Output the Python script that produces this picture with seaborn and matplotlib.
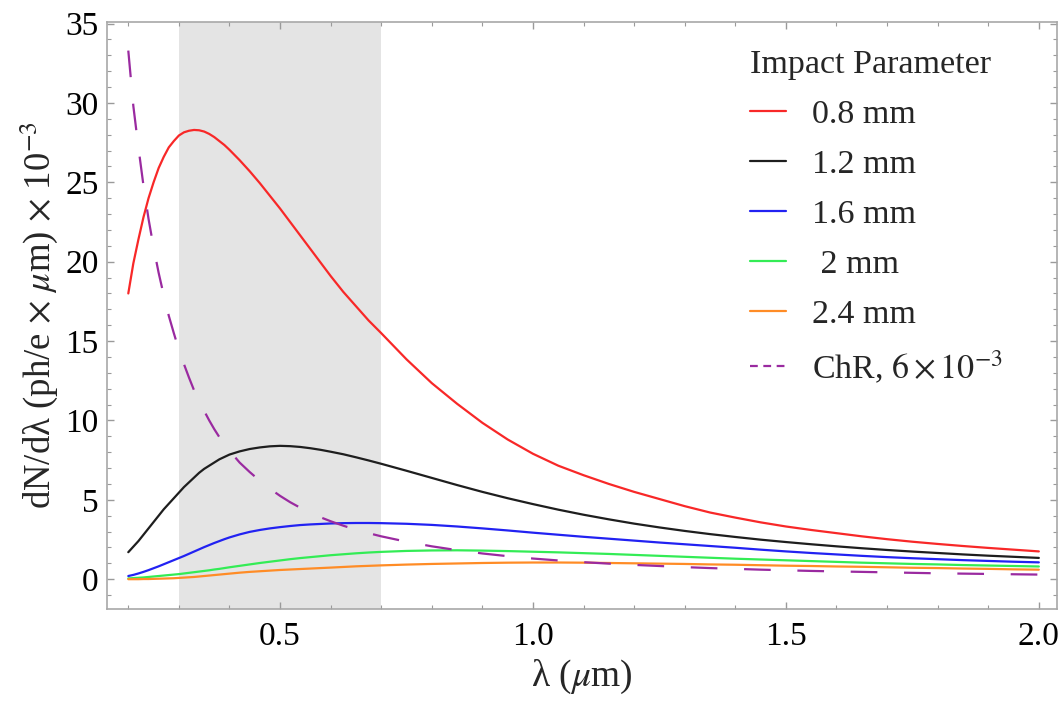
import numpy as np
import pandas as pd
import matplotlib
matplotlib.use('Agg')
import matplotlib.pyplot as plt
from matplotlib.ticker import MultipleLocator, FormatStrFormatter
import seaborn as sns

# Longueur d'onde (µm), grille commune
lam = [0.20, 0.21, 0.22, 0.23, 0.24, 0.25, 0.26, 0.27, 0.28, 0.29, 0.30,
       0.31, 0.32, 0.33, 0.34, 0.35, 0.36, 0.37, 0.38, 0.39, 0.40,
       0.42, 0.44, 0.46, 0.48, 0.50, 0.52, 0.54, 0.56, 0.58, 0.60,
       0.625, 0.65, 0.675, 0.70,
       0.75, 0.80, 0.85, 0.90, 0.95, 1.00, 1.05, 1.10, 1.15, 1.20, 1.25,
       1.30, 1.35, 1.40, 1.45, 1.50, 1.55, 1.60, 1.65, 1.70, 1.75, 1.80,
       1.85, 1.90, 1.95, 2.00]

# dN/dλ (×10^-3) pour chaque paramètre d'impact
y_08 = [18.0, 19.9, 21.4, 22.8, 24.0, 25.0, 25.9, 26.6, 27.2, 27.6, 27.95,
        28.15, 28.25, 28.3, 28.28, 28.2, 28.05, 27.85, 27.6, 27.35, 27.05,
        26.4, 25.7, 24.95, 24.15, 23.35, 22.5, 21.65, 20.8, 19.95, 19.1,
        18.1, 17.2, 16.3, 15.5,
        13.85, 12.35, 11.05, 9.85, 8.8, 7.9, 7.15, 6.55, 6.0, 5.5, 5.05,
        4.6, 4.2, 3.88, 3.58, 3.32, 3.1, 2.9, 2.7, 2.52, 2.36, 2.22,
        2.09, 1.97, 1.86, 1.75]
y_12 = [1.7, 2.05, 2.4, 2.8, 3.2, 3.6, 4.0, 4.4, 4.75, 5.1, 5.45,
        5.8, 6.1, 6.4, 6.7, 6.95, 7.15, 7.35, 7.55, 7.7, 7.85,
        8.05, 8.2, 8.3, 8.37, 8.4, 8.38, 8.33, 8.25, 8.15, 8.03,
        7.87, 7.68, 7.48, 7.27,
        6.83, 6.38, 5.93, 5.5, 5.1, 4.73, 4.38, 4.06, 3.77, 3.5, 3.26,
        3.04, 2.84, 2.66, 2.49, 2.34, 2.2, 2.07, 1.95, 1.84, 1.74, 1.65,
        1.56, 1.48, 1.41, 1.34]
y_16 = [0.2, 0.27, 0.36, 0.46, 0.57, 0.69, 0.81, 0.94, 1.07, 1.2, 1.33,
        1.46, 1.6, 1.74, 1.88, 2.02, 2.15, 2.28, 2.4, 2.52, 2.63,
        2.82, 2.98, 3.1, 3.2, 3.28, 3.35, 3.41, 3.45, 3.48, 3.51,
        3.53, 3.54, 3.54, 3.53,
        3.49, 3.42, 3.32, 3.2, 3.07, 2.93, 2.8, 2.67, 2.55, 2.43, 2.31,
        2.2, 2.09, 1.98, 1.86, 1.75, 1.65, 1.56, 1.47, 1.39, 1.32, 1.26,
        1.2, 1.15, 1.1, 1.06]
y_20 = [0.05, 0.07, 0.09, 0.11, 0.14, 0.17, 0.2, 0.23, 0.26, 0.29, 0.32,
        0.36, 0.4, 0.44, 0.48, 0.52, 0.56, 0.61, 0.65, 0.7, 0.75,
        0.84, 0.93, 1.02, 1.1, 1.18, 1.26, 1.33, 1.39, 1.45, 1.51,
        1.57, 1.63, 1.68, 1.72,
        1.78, 1.81, 1.82, 1.8, 1.77, 1.73, 1.69, 1.64, 1.59, 1.53, 1.47,
        1.41, 1.35, 1.29, 1.24, 1.19, 1.14, 1.09, 1.04, 1.0, 0.96, 0.93,
        0.89, 0.86, 0.83, 0.8]
y_24 = [0.0, 0.0, 0.0, 0.01, 0.01, 0.02, 0.03, 0.04, 0.05, 0.06, 0.08,
        0.1, 0.12, 0.14, 0.17, 0.2, 0.23, 0.26, 0.29, 0.32, 0.35,
        0.41, 0.46, 0.5, 0.54, 0.58, 0.61, 0.64, 0.67, 0.7, 0.73,
        0.77, 0.81, 0.84, 0.87,
        0.92, 0.96, 0.99, 1.02, 1.04, 1.05, 1.05, 1.04, 1.02, 1.0, 0.98,
        0.96, 0.93, 0.91, 0.88, 0.85, 0.83, 0.8, 0.78, 0.75, 0.72, 0.7,
        0.67, 0.65, 0.62, 0.6]
y_chr = [33.3, 29.8, 27.2, 24.8, 22.7, 20.9, 19.3, 17.9, 16.6, 15.5, 14.45,
         13.55, 12.7, 11.9, 11.2, 10.6, 10.0, 9.45, 8.95, 8.5, 8.1,
         7.35, 6.75, 6.2, 5.7, 5.25, 4.85, 4.5, 4.2, 3.9, 3.65,
         3.37, 3.12, 2.9, 2.7,
         2.36, 2.07, 1.83, 1.62, 1.45, 1.3, 1.18, 1.07, 0.98, 0.9, 0.83,
         0.76, 0.7, 0.65, 0.6, 0.56, 0.52, 0.49, 0.46, 0.43, 0.4, 0.37,
         0.35, 0.33, 0.31, 0.29]

labels = ['0.8 mm', '1.2 mm', '1.6 mm', ' 2 mm', '2.4 mm',
          r'ChR, $6\times10^{-3}$']
colors = ['#f82828', '#1e1e1e', '#2222f2', '#33ec55', '#ff8c26', '#9a2aa0']

# Bande grisée (domaine visible)
band = (0.3, 0.7)

series = [y_08, y_12, y_16, y_20, y_24, y_chr]
df = pd.concat([
    pd.DataFrame({'lam': lam, 'val': s, 'serie': lab})
    for s, lab in zip(series, labels)
], ignore_index=True)

sns.set_theme(style='ticks')
plt.rcParams['font.family'] = ['Liberation Serif', 'DejaVu Serif']
plt.rcParams['mathtext.fontset'] = 'stix'

fig = plt.figure(figsize=(10.63, 7.01), dpi=100)
ax = fig.add_axes([0.1007, 0.1312, 0.8937, 0.8374])

ax.axvspan(*band, color='#e4e4e4', lw=0, zorder=0)

palette = dict(zip(labels, colors))
dashes = {lab: '' for lab in labels}
dashes[labels[-1]] = (12, 12)
sns.lineplot(data=df, x='lam', y='val', hue='serie', style='serie',
             palette=palette, dashes=dashes, linewidth=1.6,
             errorbar=None, ax=ax)

ax.set_xlim(0.158, 2.036)
ax.set_ylim(-1.88, 35.1)
ax.xaxis.set_major_locator(MultipleLocator(0.5))
ax.xaxis.set_minor_locator(MultipleLocator(0.1))
ax.xaxis.set_major_formatter(FormatStrFormatter('%.1f'))
ax.yaxis.set_major_locator(MultipleLocator(5))
ax.yaxis.set_minor_locator(MultipleLocator(1))
ax.tick_params(which='both', direction='in', top=True, right=True,
               color='#9a9a9a', labelcolor='black', labelsize=24)
ax.tick_params(which='major', length=5, width=1, pad=9)
ax.tick_params(which='minor', length=3, width=0.8)
ax.tick_params(axis='y', which='major', pad=6)
for sp in ax.spines.values():
    sp.set_color('#a8a8a8')
    sp.set_linewidth(1.2)

ax.set_xlabel(r'λ ($\mu$m)', fontsize=27, labelpad=4)
ax.set_ylabel(r'dN/dλ (ph/e $\times$ $\mu$m) $\times$ 10$^{-3}$',
              fontsize=26.5, labelpad=4)

handles, labs = ax.get_legend_handles_labels()
leg = ax.legend(handles, labs, title='Impact Parameter', frameon=False,
                loc='upper left', bbox_to_anchor=(0.645, 1.005),
                fontsize=24.5, title_fontsize=24.5, handlelength=1.05,
                handletextpad=0.75, labelspacing=0.56, alignment='left')
leg.get_lines()[-1].set_dashes((3.5, 2.5))

plt.savefig('out.png', dpi=100)
plt.close(fig)
